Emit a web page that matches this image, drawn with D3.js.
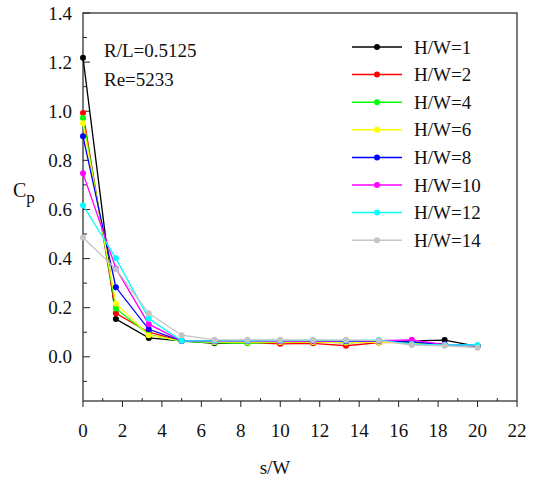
<!DOCTYPE html>
<html>
<head>
<meta charset="utf-8">
<script src="https://cdn.jsdelivr.net/npm/d3@7"></script>
<style>
  body { margin: 0; background: #fff; }
</style>
</head>
<body>
<div id="chart"></div>
<script>
// s/W positions, shared by every series
var sW = [0, 1.667, 3.333, 5, 6.667, 8.333, 10, 11.667, 13.333, 15, 16.667, 18.333, 20];

var seriesNames = ["H/W=1", "H/W=2", "H/W=4", "H/W=6", "H/W=8", "H/W=10", "H/W=12", "H/W=14"];
var seriesColors = ["#000000", "#ff0000", "#00ff00", "#ffff00", "#0000ff", "#ff00ff", "#00ffff", "#c4c4c4"];

var cpHW1  = [1.218, 0.154, 0.077, 0.065, 0.055, 0.058, 0.060, 0.060, 0.058, 0.060, 0.065, 0.068, 0.042];
var cpHW2  = [0.993, 0.177, 0.100, 0.065, 0.060, 0.058, 0.053, 0.055, 0.045, 0.058, 0.060, 0.050, 0.045];
var cpHW4  = [0.972, 0.197, 0.090, 0.063, 0.058, 0.055, 0.060, 0.060, 0.058, 0.060, 0.058, 0.048, 0.045];
var cpHW6  = [0.951, 0.217, 0.088, 0.065, 0.060, 0.060, 0.060, 0.060, 0.058, 0.060, 0.055, 0.048, 0.045];
var cpHW8  = [0.898, 0.283, 0.112, 0.065, 0.065, 0.065, 0.065, 0.065, 0.063, 0.065, 0.060, 0.050, 0.045];
var cpHW10 = [0.747, 0.360, 0.133, 0.065, 0.063, 0.063, 0.063, 0.065, 0.065, 0.066, 0.069, 0.050, 0.045];
var cpHW12 = [0.617, 0.401, 0.156, 0.065, 0.065, 0.065, 0.066, 0.068, 0.066, 0.068, 0.052, 0.048, 0.048];
var cpHW14 = [0.486, 0.357, 0.177, 0.088, 0.069, 0.069, 0.069, 0.068, 0.069, 0.066, 0.048, 0.045, 0.037];

var allSeries = [cpHW1, cpHW2, cpHW4, cpHW6, cpHW8, cpHW10, cpHW12, cpHW14];

var xTicks = [0, 2, 4, 6, 8, 10, 12, 14, 16, 18, 20, 22];
var yTicks = [0.0, 0.2, 0.4, 0.6, 0.8, 1.0, 1.2, 1.4];

var FONT = "'Times New Roman', Times, 'Liberation Serif', Tinos, 'Nimbus Roman', 'Nimbus Roman No9 L', FreeSerif, 'Noto Serif', 'DejaVu Serif', serif";

var width = 534, height = 490;
var margin = {top: 13, right: 17, bottom: 89, left: 83};
var w = width - margin.left - margin.right,
    h = height - margin.top - margin.bottom;

var svg = d3.select("#chart").append("svg")
    .attr("width", width)
    .attr("height", height)
    .style("font-family", FONT);
var g = svg.append("g").attr("transform", "translate(" + margin.left + "," + margin.top + ")");

var x = d3.scaleLinear().domain([0, 22]).range([0, w]);
var y = d3.scaleLinear().domain([-0.18, 1.4]).range([h, 0]);

// frame
g.append("rect")
    .attr("width", w).attr("height", h)
    .attr("fill", "none").attr("stroke", "#222").attr("stroke-width", 1.2);

// x axis: major ticks outward, minor ticks inward
var xAxis = g.append("g").attr("transform", "translate(0," + h + ")");
xAxis.selectAll(".major").data(xTicks).enter().append("line")
    .attr("x1", function(d) { return x(d); }).attr("x2", function(d) { return x(d); })
    .attr("y1", 0).attr("y2", 6).attr("stroke", "#222");
xAxis.selectAll(".minor").data(d3.range(1, 22, 2)).enter().append("line")
    .attr("x1", function(d) { return x(d); }).attr("x2", function(d) { return x(d); })
    .attr("y1", 0).attr("y2", -3).attr("stroke", "#222");
xAxis.selectAll("text").data(xTicks).enter().append("text")
    .attr("x", function(d) { return x(d); }).attr("y", 36)
    .attr("text-anchor", "middle").attr("font-size", 19).attr("fill", "#111")
    .text(function(d) { return d; });

// y axis: ticks inside
var yAxis = g.append("g");
yAxis.selectAll(".major").data(yTicks).enter().append("line")
    .attr("x1", 0).attr("x2", 7)
    .attr("y1", function(d) { return y(d); }).attr("y2", function(d) { return y(d); })
    .attr("stroke", "#222");
yAxis.selectAll(".minor").data([-0.1, 0.1, 0.3, 0.5, 0.7, 0.9, 1.1, 1.3]).enter().append("line")
    .attr("x1", 0).attr("x2", 4)
    .attr("y1", function(d) { return y(d); }).attr("y2", function(d) { return y(d); })
    .attr("stroke", "#222");
yAxis.selectAll("text").data(yTicks).enter().append("text")
    .attr("x", -11).attr("y", function(d) { return y(d); })
    .attr("dy", "0.35em")
    .attr("text-anchor", "end").attr("font-size", 19).attr("fill", "#111")
    .text(function(d) { return d.toFixed(1); });

// axis titles
svg.append("text")
    .attr("x", 275).attr("y", 474)
    .attr("text-anchor", "middle").attr("font-size", 19).attr("fill", "#111")
    .text("s/W");
var cp = svg.append("text").attr("x", 13).attr("y", 197).attr("font-size", 20).attr("fill", "#111");
cp.append("tspan").text("C");
cp.append("tspan").attr("dy", 6).attr("font-size", 17).text("p");

// annotations
g.append("text").attr("x", 21).attr("y", 44).attr("font-size", 19).attr("fill", "#111").text("R/L=0.5125");
g.append("text").attr("x", 21).attr("y", 73).attr("font-size", 19).attr("fill", "#111").text("Re=5233");

// series
var line = d3.line()
    .x(function(d, i) { return x(sW[i]); })
    .y(function(d) { return y(d); });

var series = g.selectAll(".series").data(allSeries).enter().append("g");
series.append("path")
    .attr("d", line)
    .attr("fill", "none")
    .attr("stroke", function(d, i) { return seriesColors[i]; })
    .attr("stroke-width", 1.3);
series.each(function(vals, i) {
  d3.select(this).selectAll("circle").data(vals).enter().append("circle")
      .attr("cx", function(d, j) { return x(sW[j]); })
      .attr("cy", function(d) { return y(d); })
      .attr("r", 3)
      .attr("fill", seriesColors[i]);
});

// legend
var legend = svg.append("g").attr("transform", "translate(352,47)");
var rows = legend.selectAll("g").data(seriesNames).enter().append("g")
    .attr("transform", function(d, i) { return "translate(0," + (i * 27.6) + ")"; });
rows.append("line")
    .attr("x1", 0).attr("x2", 50).attr("y1", 0).attr("y2", 0)
    .attr("stroke", function(d, i) { return seriesColors[i]; })
    .attr("stroke-width", 1.5);
rows.append("circle")
    .attr("cx", 25).attr("cy", 0).attr("r", 3)
    .attr("fill", function(d, i) { return seriesColors[i]; });
rows.append("text")
    .attr("x", 62).attr("y", 0).attr("dy", "0.35em")
    .attr("font-size", 19).attr("fill", "#111")
    .text(function(d) { return d; });
</script>
</body>
</html>
